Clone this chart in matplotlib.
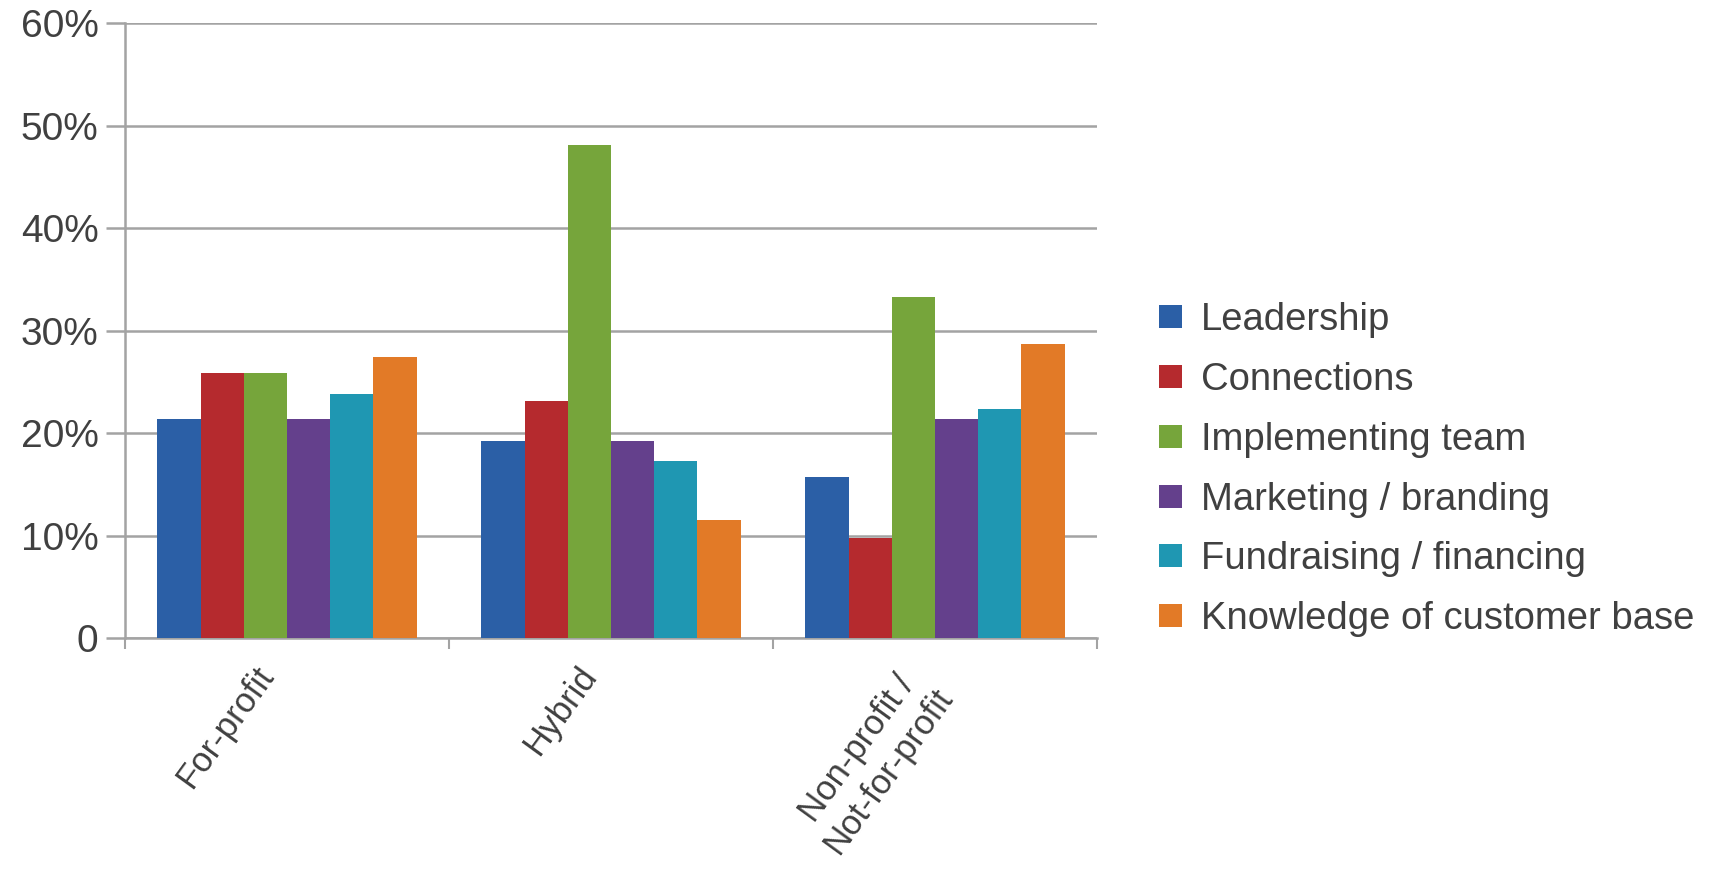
import numpy as np
import matplotlib
matplotlib.use("Agg")
import matplotlib.pyplot as plt
import matplotlib.transforms as mtransforms
from matplotlib.patches import Patch

# data (share of respondents)
categories = ["For-profit", "Hybrid", "Non-profit /\nNot-for-profit"]
series = ["Leadership", "Connections", "Implementing team",
          "Marketing / branding", "Fundraising / financing",
          "Knowledge of customer base"]
leadership = [21.4, 19.2, 15.7]
connections = [25.9, 23.1, 9.8]
implementing = [25.9, 48.1, 33.3]
marketing = [21.4, 19.2, 21.4]
fundraising = [23.8, 17.3, 22.3]
knowledge = [27.4, 11.5, 28.7]
yticks = [0, 10, 20, 30, 40, 50, 60]
ylabels = ["0", "10%", "20%", "30%", "40%", "50%", "60%"]

values = [leadership, connections, implementing, marketing, fundraising, knowledge]
colors = ["#2b5fa6", "#b52a2e", "#76a53b", "#64408c", "#1f97b2", "#e27a27"]

plt.rcParams['font.family'] = ['Liberation Sans', 'DejaVu Sans']
txt = "#404040"
grid = "#a3a3a3"

fig = plt.figure(figsize=(17.1, 8.69), dpi=100)
ax = fig.add_axes([0.0731, 0.2658, 0.5684, 0.7077])

x = np.arange(len(categories))
w = 0.8 / len(series)
for i, (vals, c) in enumerate(zip(values, colors)):
    ax.bar(x + (i - 2.5) * w, vals, width=w, color=c, zorder=3)

ax.set_xlim(-0.5, 2.5)
ax.set_ylim(0, 60)
ax.set_yticks(yticks)
ax.set_yticklabels(ylabels, fontsize=28, color=txt)
ax.yaxis.grid(True, color=grid, linewidth=1.8, zorder=0)
ax.tick_params(axis='y', length=14, width=1.8, color=grid, pad=5)

ax.set_xticks(x)
ax.set_xticklabels(categories, rotation=54, ha='right', rotation_mode='anchor',
                   multialignment='center', fontsize=25, color=txt)
ax.tick_params(axis='x', which='major', length=0, pad=16)
ax.set_xticks([-0.5, 0.5, 1.5, 2.5], minor=True)
ax.tick_params(axis='x', which='minor', length=8, width=1.5, color=grid)
shift = mtransforms.ScaledTranslation(-0.34, 0, fig.dpi_scale_trans)
for lbl in ax.get_xticklabels():
    lbl.set_transform(lbl.get_transform() + shift)

for s in ['top', 'right']:
    ax.spines[s].set_visible(False)
for s in ['left', 'bottom']:
    ax.spines[s].set_color(grid)
    ax.spines[s].set_linewidth(1.8)

handles = [Patch(facecolor=c) for c in colors]
fig.legend(handles, series, loc='center left', bbox_to_anchor=(0.6667, 0.4595),
           frameon=False, fontsize=27.5, handlelength=0.6, handleheight=0.55,
           handletextpad=0.5, labelspacing=0.62, borderpad=0, labelcolor=txt)

fig.savefig("out.png", dpi=100)
